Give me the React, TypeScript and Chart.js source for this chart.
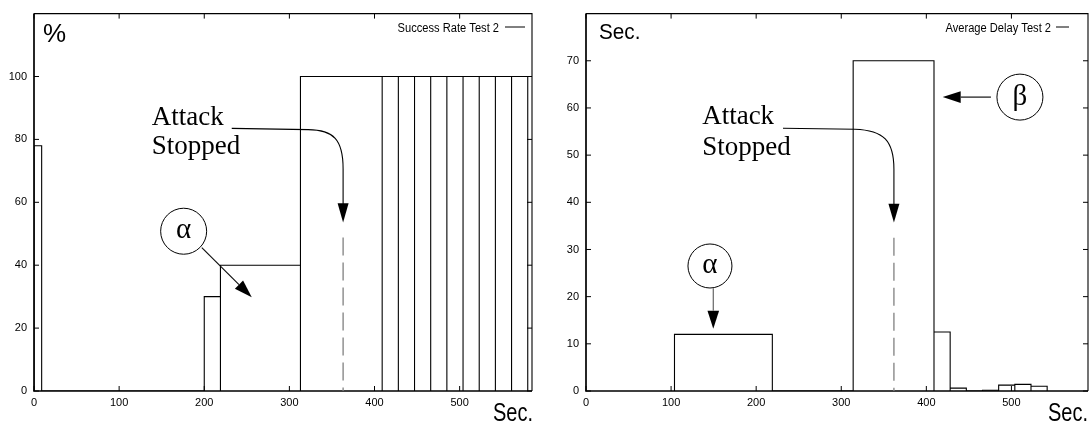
import React, { useEffect, useRef } from "react";
import { Chart, registerables } from "chart.js";

Chart.register(...registerables);

// ---------------- data ----------------
const successLabel = "Success Rate Test 2";
const successBinStart = [0, 200, 219, 313, 409, 428, 447, 466, 485, 504, 523, 542, 561];
const successBinEnd = [9, 219, 313, 409, 428, 447, 466, 485, 504, 523, 542, 561, 580];
const successRate = [78, 30, 40, 100, 100, 100, 100, 100, 100, 100, 100, 100, 100];
const successXTicks = [0, 100, 200, 300, 400, 500];
const successYTicks = [0, 20, 40, 60, 80, 100];

const delayLabel = "Average Delay Test 2";
const delayBinStart = [104, 314, 409, 428, 466, 485, 504, 523];
const delayBinEnd = [219, 409, 428, 447, 485, 504, 523, 542];
const avgDelay = [12, 70, 12.5, 0.6, 0.15, 1.25, 1.4, 1.0];
const delayXTicks = [0, 100, 200, 300, 400, 500];
const delayYTicks = [0, 10, 20, 30, 40, 50, 60, 70];

const annotText1 = "Attack";
const annotText2 = "Stopped";

type Pt = { x: number; y: number };

function boxOutline(starts: number[], ends: number[], values: number[]): Pt[] {
  const pts: Pt[] = [];
  starts.forEach((s, i) => {
    pts.push({ x: s, y: 0 }, { x: s, y: values[i] }, { x: ends[i], y: values[i] }, { x: ends[i], y: 0 });
  });
  return pts;
}

interface Pointer {
  letter: string;
  c: Pt;
  r: number;
  letterDy: number;
  from: Pt;
  tip: Pt;
  shaft: string;
}

interface PanelSpec {
  label: string;
  starts: number[];
  ends: number[];
  values: number[];
  xMax: number;
  yMax: number;
  xTicks: number[];
  yTicks: number[];
  areaLeft: number;
  areaRight: number;
  unitTop: { text: string; x: number; y: number; size: number; sx: number };
  unitBottom: { x: number; y: number; size: number; sx: number };
  legend: { textRight: number; y: number; lineFrom: number; lineTo: number };
  text: { x: number; y1: number; y2: number };
  curve: { start: Pt; h: Pt; c1: Pt; c2: Pt; bend: Pt; base: Pt; tip: Pt };
  dash: { x: number; top: number };
  pointers: Pointer[];
}

const W = 545;
const H = 423;
const TOP = 11;
const BOTTOM_H = 32;

const leftSpec: PanelSpec = {
  label: successLabel,
  starts: successBinStart,
  ends: successBinEnd,
  values: successRate,
  xMax: 585,
  yMax: 120,
  xTicks: successXTicks,
  yTicks: successYTicks,
  areaLeft: 34,
  areaRight: 532,
  unitTop: { text: "%", x: 43, y: 42, size: 26, sx: 1 },
  unitBottom: { x: 533, y: 421, size: 25, sx: 0.8 },
  legend: { textRight: 499, y: 27, lineFrom: 505, lineTo: 525 },
  text: { x: 138.3, y1: 84.6, y2: 75.2 },
  curve: {
    start: { x: 232.3, y: 83.5 },
    h: { x: 322, y: 83.1 },
    c1: { x: 352, y: 83.0 },
    c2: { x: 363.1, y: 80 },
    bend: { x: 363.1, y: 70.7 },
    base: { x: 363.1, y: 59.4 },
    tip: { x: 363.1, y: 53.6 },
  },
  dash: { x: 363.1, top: 48.8 },
  pointers: [
    {
      letter: "α",
      c: { x: 175.8, y: 50.8 },
      r: 23,
      letterDy: 7,
      from: { x: 197.1, y: 45.6 },
      tip: { x: 255.8, y: 29.8 },
      shaft: "#111",
    },
  ],
};

const rightSpec: PanelSpec = {
  label: delayLabel,
  starts: delayBinStart,
  ends: delayBinEnd,
  values: avgDelay,
  xMax: 590,
  yMax: 80,
  xTicks: delayXTicks,
  yTicks: delayYTicks,
  areaLeft: 41,
  areaRight: 543,
  unitTop: { text: "Sec.", x: 54, y: 39, size: 22, sx: 0.94 },
  unitBottom: { x: 543, y: 421, size: 25, sx: 0.8 },
  legend: { textRight: 506, y: 27, lineFrom: 511, lineTo: 524 },
  text: { x: 136.5, y1: 56.5, y2: 50.0 },
  curve: {
    start: { x: 231.5, y: 55.7 },
    h: { x: 316, y: 55.5 },
    c1: { x: 350, y: 55.3 },
    c2: { x: 361.9, y: 53 },
    bend: { x: 361.9, y: 47 },
    base: { x: 361.9, y: 39.5 },
    tip: { x: 361.9, y: 35.7 },
  },
  dash: { x: 361.9, top: 32.5 },
  pointers: [
    {
      letter: "α",
      c: { x: 145.7, y: 26.5 },
      r: 22,
      letterDy: 7,
      from: { x: 149.6, y: 21.8 },
      tip: { x: 149.6, y: 13.2 },
      shaft: "#666",
    },
    {
      letter: "β",
      c: { x: 510, y: 62.3 },
      r: 23,
      letterDy: 8,
      from: { x: 475.9, y: 62.3 },
      tip: { x: 419.2, y: 62.3 },
      shaft: "#111",
    },
  ],
};

const SANS = "'Liberation Sans', Arial, sans-serif";
const SERIF = "'Liberation Serif', 'Times New Roman', serif";

function drawText(
  ctx: CanvasRenderingContext2D,
  text: string,
  x: number,
  y: number,
  font: string,
  align: CanvasTextAlign,
  sx = 1
) {
  ctx.save();
  ctx.font = font;
  ctx.textAlign = align;
  ctx.textBaseline = "alphabetic";
  ctx.fillStyle = "#000";
  ctx.translate(x, y);
  ctx.scale(sx, 1);
  ctx.fillText(text, 0, 0);
  ctx.restore();
}

function arrowHead(ctx: CanvasRenderingContext2D, tx: number, ty: number, fx: number, fy: number, len: number, half: number) {
  const dx = tx - fx;
  const dy = ty - fy;
  const d = Math.hypot(dx, dy) || 1;
  const ux = dx / d;
  const uy = dy / d;
  const bx = tx - ux * len;
  const by = ty - uy * len;
  ctx.beginPath();
  ctx.moveTo(tx, ty);
  ctx.lineTo(bx - uy * half, by + ux * half);
  ctx.lineTo(bx + uy * half, by - ux * half);
  ctx.closePath();
  ctx.fillStyle = "#000";
  ctx.fill();
  return { bx, by };
}

function makeDeco(spec: PanelSpec) {
  return {
    id: "deco",
    afterDraw(chart: any) {
      const ctx: CanvasRenderingContext2D = chart.ctx;
      const xs = chart.scales.x;
      const ys = chart.scales.y;
      const X = (v: number) => xs.getPixelForValue(v);
      const Y = (v: number) => ys.getPixelForValue(v);
      const { left, right, top, bottom } = chart.chartArea;

      ctx.save();
      // frame: top/right thin, left/bottom axes heavier
      ctx.strokeStyle = "#000";
      ctx.lineWidth = 1.1;
      ctx.beginPath();
      ctx.moveTo(left, top);
      ctx.lineTo(right, top);
      ctx.lineTo(right, bottom);
      ctx.stroke();
      ctx.lineWidth = 1.7;
      ctx.beginPath();
      ctx.moveTo(left, top);
      ctx.lineTo(left, bottom);
      ctx.lineTo(right, bottom);
      ctx.stroke();

      // inward ticks
      const TL = 5;
      ctx.lineWidth = 1;
      ctx.beginPath();
      spec.xTicks.forEach((v) => {
        const px = X(v);
        ctx.moveTo(px, bottom);
        ctx.lineTo(px, bottom - TL);
        ctx.moveTo(px, top);
        ctx.lineTo(px, top + TL);
      });
      spec.yTicks.forEach((v) => {
        const py = Y(v);
        ctx.moveTo(left, py);
        ctx.lineTo(left + TL, py);
        ctx.moveTo(right, py);
        ctx.lineTo(right - TL, py);
      });
      ctx.stroke();

      // unit labels
      const ut = spec.unitTop;
      drawText(ctx, ut.text, ut.x, ut.y, `${ut.size}px ${SANS}`, "left", ut.sx);
      const ub = spec.unitBottom;
      drawText(ctx, "Sec.", ub.x, ub.y, `${ub.size}px ${SANS}`, "right", ub.sx);

      // legend
      const lg = spec.legend;
      drawText(ctx, spec.label, lg.textRight, lg.y + 4.5, `12.5px ${SANS}`, "right", 0.89);
      ctx.strokeStyle = "#000";
      ctx.lineWidth = 1;
      ctx.beginPath();
      ctx.moveTo(lg.lineFrom, lg.y);
      ctx.lineTo(lg.lineTo, lg.y);
      ctx.stroke();

      // annotation text
      const tf = `27px ${SERIF}`;
      drawText(ctx, annotText1, X(spec.text.x), Y(spec.text.y1), tf, "left");
      drawText(ctx, annotText2, X(spec.text.x), Y(spec.text.y2), tf, "left");

      // curved arrow
      const cv = spec.curve;
      ctx.strokeStyle = "#000";
      ctx.lineWidth = 1.1;
      ctx.beginPath();
      ctx.moveTo(X(cv.start.x), Y(cv.start.y));
      ctx.lineTo(X(cv.h.x), Y(cv.h.y));
      ctx.bezierCurveTo(X(cv.c1.x), Y(cv.c1.y), X(cv.c2.x), Y(cv.c2.y), X(cv.bend.x), Y(cv.bend.y));
      ctx.lineTo(X(cv.base.x), Y(cv.base.y));
      ctx.stroke();
      arrowHead(ctx, X(cv.tip.x), Y(cv.tip.y), X(cv.base.x), Y(cv.base.y), Y(cv.tip.y) - Y(cv.base.y) + 1, 5.5);

      // dashed marker
      ctx.save();
      ctx.strokeStyle = "#808080";
      ctx.lineWidth = 1.3;
      ctx.setLineDash([18, 7]);
      ctx.beginPath();
      ctx.moveTo(X(spec.dash.x), Y(spec.dash.top));
      ctx.lineTo(X(spec.dash.x), Y(0));
      ctx.stroke();
      ctx.restore();

      // circled pointers
      spec.pointers.forEach((p) => {
        const cx = X(p.c.x);
        const cy = Y(p.c.y);
        ctx.strokeStyle = "#000";
        ctx.lineWidth = 1;
        ctx.beginPath();
        ctx.arc(cx, cy, p.r, 0, Math.PI * 2);
        ctx.stroke();
        drawText(ctx, p.letter, cx, cy + p.letterDy, `29px ${SERIF}`, "center");
        const fx = X(p.from.x);
        const fy = Y(p.from.y);
        const tx = X(p.tip.x);
        const ty = Y(p.tip.y);
        const { bx, by } = arrowHead(ctx, tx, ty, fx, fy, 18, 5.8);
        ctx.strokeStyle = p.shaft;
        ctx.lineWidth = 1.2;
        ctx.beginPath();
        ctx.moveTo(fx, fy);
        ctx.lineTo(bx, by);
        ctx.stroke();
      });

      ctx.restore();
    },
  };
}

function makeConfig(spec: PanelSpec): any {
  const tickFont = { family: SANS, size: 11 };
  return {
    type: "line",
    data: {
      datasets: [
        {
          label: spec.label,
          data: boxOutline(spec.starts, spec.ends, spec.values),
          borderColor: "#000",
          borderWidth: 1.1,
          pointRadius: 0,
          fill: false,
          tension: 0,
        },
      ],
    },
    options: {
      animation: false,
      responsive: false,
      maintainAspectRatio: false,
      devicePixelRatio: window.devicePixelRatio || 1,
      layout: { padding: { top: TOP, right: W - spec.areaRight, left: 0, bottom: 0 } },
      plugins: { legend: { display: false }, tooltip: { enabled: false } },
      scales: {
        x: {
          type: "linear",
          min: 0,
          max: spec.xMax,
          afterBuildTicks: (s: any) => {
            s.ticks = spec.xTicks.map((v) => ({ value: v }));
          },
          afterFit: (s: any) => {
            s.height = BOTTOM_H;
          },
          grid: { display: false, drawTicks: false },
          border: { display: false },
          ticks: { padding: 5, color: "#000", font: tickFont, maxRotation: 0, autoSkip: false },
        },
        y: {
          type: "linear",
          min: 0,
          max: spec.yMax,
          afterBuildTicks: (s: any) => {
            s.ticks = spec.yTicks.map((v) => ({ value: v }));
          },
          afterFit: (s: any) => {
            s.width = spec.areaLeft;
          },
          grid: { display: false, drawTicks: false },
          border: { display: false },
          ticks: { padding: 7, color: "#000", font: tickFont, autoSkip: false },
        },
      },
    },
    plugins: [makeDeco(spec)],
  };
}

function Panel({ spec, offset }: { spec: PanelSpec; offset: number }) {
  const ref = useRef<HTMLCanvasElement | null>(null);
  useEffect(() => {
    if (!ref.current) return;
    const chart = new Chart(ref.current, makeConfig(spec));
    return () => chart.destroy();
  }, [spec]);
  return (
    <canvas
      ref={ref}
      width={W}
      height={H}
      style={{ position: "absolute", left: offset, top: 0, width: W, height: H, display: "block" }}
    />
  );
}

export default function App() {
  return (
    <div style={{ position: "absolute", left: 0, top: 0, width: 1090, height: 423, background: "#fff" }}>
      <Panel spec={leftSpec} offset={0} />
      <Panel spec={rightSpec} offset={545} />
    </div>
  );
}
